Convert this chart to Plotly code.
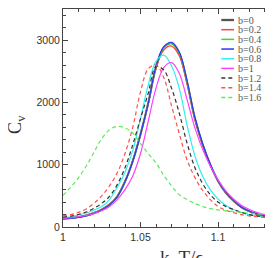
import plotly.graph_objects as go

# Temperature grid (k_B T / epsilon)
T = [1.000, 1.005, 1.010, 1.015, 1.020, 1.025, 1.030, 1.035, 1.040, 1.045,
     1.050, 1.055, 1.060, 1.065, 1.070, 1.075, 1.080, 1.085, 1.090, 1.095,
     1.100, 1.105, 1.110, 1.115, 1.120, 1.125, 1.130, 1.135, 1.140]

cv_b00 = [135, 145, 160, 185, 225, 280, 360, 490, 730, 1060,
          1490, 1990, 2570, 2880, 2950, 2790, 2330, 1750, 1330, 1000,
          740, 550, 420, 320, 255, 210, 180, 158, 142]
cv_b02 = [138, 148, 163, 188, 228, 283, 362, 492, 730, 1055,
          1480, 1975, 2540, 2840, 2905, 2750, 2300, 1735, 1320, 995,
          738, 548, 418, 318, 253, 208, 178, 156, 140]
cv_b04 = [133, 143, 158, 183, 223, 278, 358, 488, 728, 1058,
          1488, 1988, 2568, 2875, 2945, 2790, 2335, 1755, 1335, 1003,
          742, 552, 421, 321, 256, 211, 181, 159, 143]
cv_b06 = [125, 137, 153, 178, 218, 273, 354, 484, 725, 1055,
          1485, 1985, 2575, 2895, 2965, 2810, 2355, 1770, 1345, 1010,
          748, 556, 424, 323, 258, 212, 182, 160, 144]
cv_b08 = [150, 165, 195, 225, 270, 330, 440, 640, 880, 1230,
          1740, 2280, 2660, 2760, 2590, 2230, 1640, 1150, 820, 600,
          450, 350, 280, 235, 200, 178, 160, 150, 142]
cv_b10 = [140, 150, 165, 185, 215, 260, 330, 440, 600, 820,
          1180, 1700, 2230, 2560, 2640, 2470, 2050, 1600, 1250, 980,
          760, 580, 450, 350, 285, 235, 200, 178, 162]
cv_b12 = [160, 175, 200, 240, 300, 380, 490, 680, 950, 1320,
          1740, 2150, 2575, 2520, 2230, 1830, 1350, 960, 700, 520,
          400, 330, 280, 235, 200, 178, 160, 150, 143]
cv_b14 = [180, 200, 235, 290, 380, 500, 660, 870, 1180, 1600,
          2170, 2540, 2600, 2400, 1950, 1500, 1080, 800, 590, 440,
          330, 270, 230, 200, 180, 165, 155, 148, 143]
cv_b16 = [508, 640, 790, 980, 1200, 1420, 1560, 1615, 1590, 1510,
          1340, 1180, 1030, 830, 660, 520, 440, 380, 330, 295,
          275, 260, 248, 235, 222, 212, 203, 196, 190]

labels = ["b=0", "b=0.2", "b=0.4", "b=0.6", "b=0.8", "b=1", "b=1.2", "b=1.4", "b=1.6"]
series = [cv_b00, cv_b02, cv_b04, cv_b06, cv_b08, cv_b10, cv_b12, cv_b14, cv_b16]
colors = ["#555555", "#ff4040", "#33dd33", "#3333ff", "#33eeee", "#ff40ff",
          "#333333", "#ff5050", "#55ee55"]
dashes = ["solid"] * 6 + ["4px,3px"] * 3
widths = [2.0, 1.2, 1.2, 1.2, 1.2, 1.2, 1.2, 1.2, 1.2]

x_ticks = [1.0, 1.05, 1.1]
x_ticktext = ["1", "1.05", "1.1"]
y_ticks = [0, 1000, 2000, 3000]
y_ticktext = ["0", "1000", "2000", "3000"]

fig = go.Figure()
for lab, ys, c, d, w in zip(labels, series, colors, dashes, widths):
    fig.add_trace(go.Scatter(x=T, y=ys, mode="lines", name=lab,
                             line=dict(color=c, dash=d, width=w, shape="spline", smoothing=1.0),
                             showlegend=False))

axis_common = dict(showline=True, linecolor="#444444", linewidth=1, mirror="ticks",
                   ticks="inside", ticklen=5, tickcolor="#444444", tickwidth=1,
                   showgrid=False, zeroline=False,
                   tickfont=dict(family="Liberation Sans, Arial, sans-serif", size=10.5, color="#333333"))

fig.update_layout(
    width=273, height=258,
    margin=dict(l=55, r=1, t=1, b=39),
    paper_bgcolor="white", plot_bgcolor="white",
    xaxis=dict(range=[1.0, 1.14], tickvals=x_ticks, ticktext=x_ticktext,
               minor=dict(dtick=0.01, tick0=1.0, ticks="inside", ticklen=3, tickcolor="#444444"),
               **axis_common),
    yaxis=dict(range=[0, 3500], tickvals=y_ticks, ticktext=y_ticktext,
               minor=dict(dtick=200, tick0=0, ticks="inside", ticklen=3, tickcolor="#444444"),
               **axis_common),
)

# Axis titles
fig.add_annotation(text="k<sub>B</sub>T/ϵ", xref="paper", yref="paper",
                   x=0.544, y=-0.145, xanchor="center", yanchor="middle", showarrow=False,
                   font=dict(family="Liberation Serif, Times New Roman, serif", size=19, color="#333333"))
fig.add_annotation(text="C<sub>v</sub>", xref="paper", yref="paper", textangle=-90,
                   x=-0.215, y=0.47, xanchor="center", yanchor="middle", showarrow=False,
                   font=dict(family="Liberation Serif, Times New Roman, serif", size=18, color="#333333"))

# Manual compact legend (paper coordinates)
x0, x1, xt = 0.7295, 0.788, 0.7986
ytop, ystep = 0.9495, 0.0444
for i, (lab, c, d, w) in enumerate(zip(labels, colors, dashes, widths)):
    yy = ytop - i * ystep
    fig.add_shape(type="line", xref="paper", yref="paper", x0=x0, x1=x1, y0=yy, y1=yy,
                  line=dict(color=c, dash=d, width=w + 0.3))
    fig.add_annotation(text=lab, xref="paper", yref="paper", x=xt, y=yy,
                       xanchor="left", yanchor="middle", showarrow=False,
                       font=dict(family="Liberation Serif, Times New Roman, serif", size=10, color="#555555"))

fig.write_html("out.html")
